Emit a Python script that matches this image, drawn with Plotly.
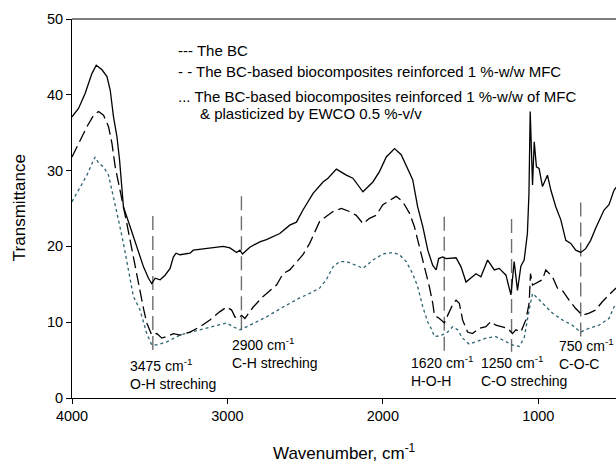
import plotly.graph_objects as go

# FTIR spectra (wavenumber cm-1, transmittance)
bc_wn = [4000, 3958, 3915, 3872, 3844, 3807, 3775, 3754, 3733, 3711, 3694, 3669, 3626, 3583,
         3540, 3508, 3487, 3465, 3433, 3401, 3369, 3348, 3331, 3305, 3241, 3220, 3134, 3027,
         2984, 2941, 2920, 2903, 2856, 2792, 2749, 2663, 2599, 2556, 2514, 2449, 2385, 2353,
         2299, 2235, 2193, 2128, 2064, 2021, 1978, 1925, 1882, 1840, 1808, 1776, 1743, 1711,
         1679, 1657, 1641, 1615, 1593, 1529, 1497, 1465, 1433, 1401, 1369, 1326, 1283, 1251,
         1208, 1176, 1155, 1134, 1112, 1091, 1070, 1060, 1052, 1037, 1026, 1012, 995, 973,
         941, 919, 887, 855, 823, 791, 759, 727, 695, 663, 631, 598, 577, 545, 513, 500]
bc_t = [37.1, 38.2, 40.2, 42.8, 43.9, 43.3, 42.4, 40.6, 37.1, 34.5, 31.4, 25.2, 22.6, 20.0,
        17.3, 15.8, 15.1, 15.8, 15.6, 16.2, 17.1, 18.6, 19.1, 18.9, 19.1, 19.5, 19.7, 20.0,
        19.8, 19.2, 19.5, 19.0, 19.9, 20.6, 20.9, 21.7, 22.8, 23.2, 24.8, 27.0, 28.5, 29.0,
        30.2, 29.4, 29.0, 27.2, 28.5, 29.9, 31.8, 32.9, 32.1, 30.3, 28.8, 25.2, 22.6, 19.5,
        17.5, 16.9, 18.4, 18.6, 18.4, 18.5, 17.3, 15.3, 15.8, 16.4, 16.0, 18.2, 16.9, 17.1,
        16.2, 13.6, 18.0, 14.2, 17.4, 18.2, 21.7, 27.0, 37.8, 28.1, 33.8, 30.5, 30.3, 27.9,
        29.4, 27.4, 25.2, 23.5, 20.8, 20.4, 19.5, 19.2, 19.7, 20.8, 22.4, 23.9, 24.8, 25.5, 27.4, 27.8]

mfc_wn = [4000, 3947, 3904, 3861, 3829, 3797, 3765, 3743, 3722, 3647, 3615, 3583, 3573, 3540,
          3519, 3487, 3454, 3422, 3390, 3348, 3305, 3241, 3177, 3113, 3048, 3005, 2973, 2952,
          2931, 2909, 2888, 2834, 2770, 2684, 2642, 2599, 2514, 2471, 2407, 2364, 2321, 2267,
          2214, 2171, 2128, 2086, 2043, 2000, 1957, 1914, 1872, 1829, 1797, 1765, 1733, 1701,
          1679, 1668, 1636, 1604, 1583, 1551, 1529, 1508, 1487, 1455, 1423, 1380, 1337, 1305,
          1273, 1230, 1198, 1166, 1144, 1112, 1080, 1059, 1050, 1037, 1016, 973, 952, 909,
          877, 845, 802, 759, 716, 673, 631, 588, 545, 513, 500]
mfc_t = [31.8, 34.0, 35.8, 37.3, 37.8, 37.3, 35.8, 33.6, 30.5, 23.0, 19.5, 16.0, 15.1, 11.8,
         9.9, 8.3, 8.5, 7.9, 8.1, 8.5, 8.3, 8.7, 9.4, 10.3, 11.4, 12.0, 11.6, 10.7,
         10.5, 10.9, 10.5, 12.0, 13.4, 14.9, 16.4, 16.9, 18.9, 20.4, 23.3, 23.9, 24.6, 25.0,
         24.6, 24.1, 23.0, 23.7, 24.1, 25.5, 26.1, 26.6, 25.9, 24.4, 22.6, 20.0, 17.3, 14.7,
         12.5, 10.9, 10.5, 9.9, 10.9, 12.3, 12.9, 12.5, 10.3, 8.7, 8.5, 9.2, 9.4, 10.1,
         9.6, 9.4, 9.2, 8.5, 9.0, 8.7, 10.3, 12.5, 16.4, 14.9, 15.1, 15.6, 16.9, 16.0,
         14.5, 14.2, 12.9, 11.8, 10.9, 11.2, 11.6, 12.7, 13.6, 14.2, 14.5]

ewco_wn = [4000, 3947, 3904, 3861, 3851, 3829, 3797, 3765, 3733, 3701, 3669, 3637, 3605, 3562,
           3519, 3487, 3454, 3390, 3305, 3177, 3070, 3005, 2963, 2920, 2856, 2749, 2642, 2535,
           2471, 2407, 2364, 2321, 2278, 2235, 2171, 2128, 2064, 2000, 1936, 1893, 1850, 1808,
           1776, 1743, 1711, 1690, 1668, 1636, 1593, 1551, 1519, 1487, 1444, 1401, 1337, 1273,
           1208, 1166, 1123, 1091, 1059, 1037, 1016, 973, 909, 845, 781, 727, 673, 609, 545, 513, 500]
ewco_t = [25.9, 27.9, 29.4, 31.4, 31.8, 31.0, 30.5, 29.4, 26.6, 23.5, 20.4, 16.9, 13.4, 11.6,
          8.5, 7.0, 7.0, 7.4, 8.3, 9.0, 9.5, 9.9, 9.4, 9.0, 9.6, 10.7, 12.0, 13.2,
          13.8, 14.5, 15.6, 17.3, 18.0, 18.0, 17.5, 17.1, 18.2, 19.0, 19.2, 18.9, 18.0, 16.4,
          14.7, 12.0, 10.0, 9.2, 8.1, 8.2, 8.5, 9.4, 9.0, 7.9, 7.1, 7.4, 7.9, 8.1,
          7.4, 7.0, 6.8, 7.9, 11.6, 13.8, 13.4, 12.5, 11.2, 10.3, 9.6, 8.7, 9.2, 9.6, 10.5, 12.0, 12.3]

# band markers: position of the dashed guide, its extent, and label
band_wn = [3480, 2910, 1605, 1172, 727]
band_top = [24.0, 26.6, 23.9, 23.6, 25.8]
band_bottom = [6.1, 8.7, 6.0, 6.1, 8.1]
band_labels = ["3475 cm<sup>-1</sup><br>O-H streching",
               "2900 cm<sup>-1</sup><br>C-H streching",
               "1620 cm<sup>-1</sup><br>H-O-H",
               "1250 cm<sup>-1</sup><br>C-O streching",
               "750 cm<sup>-1</sup><br>C-O-C"]
label_x = [3641, 2986, 1833, 1384, 881]
label_y = [3.2, 5.9, 3.5, 3.5, 5.8]

legend_lines = ["--- The BC",
                "- - The BC-based biocomposites reinforced 1 %-w/w MFC",
                "... The BC-based biocomposites reinforced 1 %-w/w of MFC",
                "& plasticized by EWCO 0.5 %-v/v"]
legend_x = [3331, 3331, 3331, 3189]
legend_y = [45.9, 43.1, 39.8, 37.5]

FONT = "Liberation Sans, Arial, sans-serif"

fig = go.Figure()

for i in range(len(band_wn)):
    fig.add_trace(go.Scatter(
        x=[band_wn[i], band_wn[i]], y=[band_top[i], band_bottom[i]],
        mode="lines", line=dict(color="#6e6e6e", width=1.4, dash="14px,6px"),
        showlegend=False, hoverinfo="skip"))

fig.add_trace(go.Scatter(x=ewco_wn, y=ewco_t, mode="lines",
                         line=dict(color="#2c6470", width=1.3, dash="dot"),
                         name="EWCO", showlegend=False))
fig.add_trace(go.Scatter(x=mfc_wn, y=mfc_t, mode="lines",
                         line=dict(color="black", width=1.3, dash="12px,5px"),
                         name="MFC", showlegend=False))
fig.add_trace(go.Scatter(x=bc_wn, y=bc_t, mode="lines",
                         line=dict(color="black", width=1.3),
                         name="BC", showlegend=False))

for txt, x, y in zip(band_labels, label_x, label_y):
    fig.add_annotation(x=x, y=y, text=txt, showarrow=False, xanchor="left",
                       yanchor="middle", align="left",
                       font=dict(size=14, color="black", family=FONT))

for txt, x, y in zip(legend_lines, legend_x, legend_y):
    fig.add_annotation(x=x, y=y, text=txt, showarrow=False, xanchor="left",
                       yanchor="middle", align="left",
                       font=dict(size=15, color="black", family=FONT))

# axis titles placed by hand so the plot area keeps its fixed margins
fig.add_annotation(xref="paper", yref="paper", x=0.5, y=-0.1425,
                   text="Wavenumber, cm<sup>-1</sup>", showarrow=False,
                   xanchor="center", yanchor="middle",
                   font=dict(size=17, color="black", family=FONT))
fig.add_annotation(xref="paper", yref="paper", x=-0.0974, y=0.501,
                   text="Transmittance", showarrow=False, textangle=-90,
                   xanchor="center", yanchor="middle",
                   font=dict(size=17, color="black", family=FONT))

# top frame line
fig.add_shape(type="line", xref="paper", yref="paper", x0=0, x1=1, y0=1, y1=1,
              line=dict(color="#555555", width=1.5))

fig.update_layout(
    width=616, height=462,
    margin=dict(l=72, r=0, t=19, b=64),
    paper_bgcolor="white", plot_bgcolor="white",
    font=dict(family=FONT, size=14.5, color="black"),
    showlegend=False,
    xaxis=dict(range=[4000, 500], tickvals=[4000, 3000, 2000, 1000],
               showgrid=False, zeroline=False, showline=True, linecolor="black",
               linewidth=1, ticks="outside", ticklen=5, tickcolor="black",
               automargin=False),
    yaxis=dict(range=[0, 50], tickvals=[0, 10, 20, 30, 40, 50],
               showgrid=False, zeroline=False, showline=True, linecolor="black",
               linewidth=1, ticks="outside", ticklen=5, tickcolor="black",
               automargin=False),
)

# the page body has a default 8px margin; drop it so the figure fills the window
fig.write_html("out.html", config={"displayModeBar": False},
               post_script="document.body.style.margin='0';")
